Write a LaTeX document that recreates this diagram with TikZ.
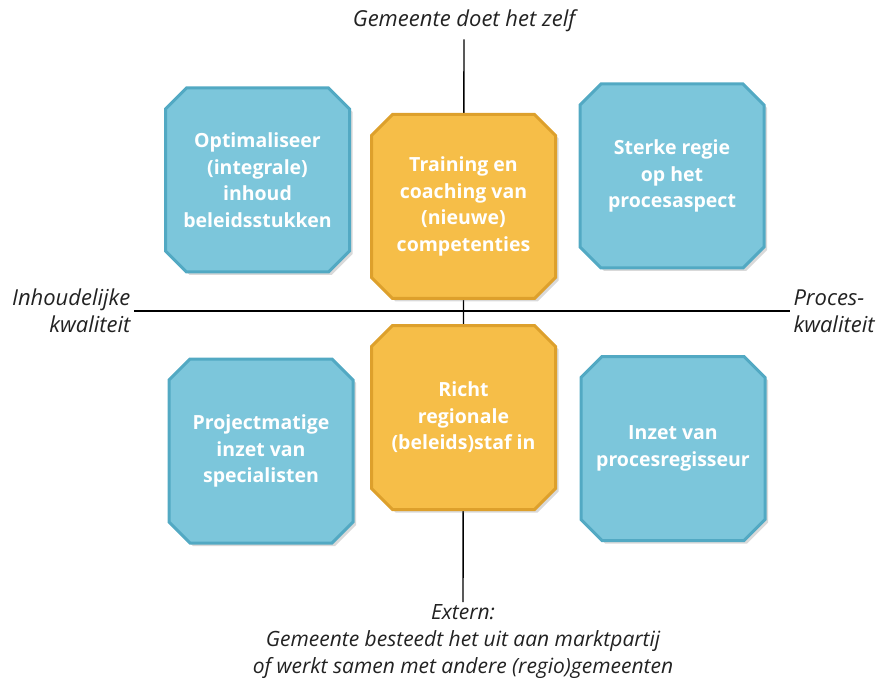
\documentclass[tikz,border=0pt]{standalone}
\usepackage{fontspec}
\setmainfont{Open Sans}
\usetikzlibrary{shapes.misc, shadows, positioning}

\definecolor{tileblue}{HTML}{7CC6DB}
\definecolor{tileblueedge}{HTML}{52A9C3}
\definecolor{tileorange}{HTML}{F6BE48}
\definecolor{tileorangeedge}{HTML}{DDA02C}
\definecolor{labelgray}{HTML}{222222}

\tikzset{
	tile/.style = {chamfered rectangle, chamfered rectangle xsep = 10.5pt, chamfered rectangle ysep = 10.5pt,
		minimum width = 184pt, minimum height = 184pt, inner sep = 0pt, line width = 3pt,
		text = white, align = center, font = \fontsize{19.5}{26.5}\selectfont\bfseries,
		drop shadow = {shadow xshift = 3pt, shadow yshift = -3pt, opacity = 0.3}},
	bluetile/.style = {tile, fill = tileblue, draw = tileblueedge},
	orangetile/.style = {tile, fill = tileorange, draw = tileorangeedge},
	axislabel/.style = {text = labelgray, font = \fontsize{22}{27}\selectfont\itshape}
}

\begin{document}
\begin{tikzpicture}[x = 1pt, y = -1pt]
	\useasboundingbox (0,0) rectangle (888,684);

	% labels at the ends of the axes
	\begin{scope}[axislabel]
		\node [inner sep = 7pt] (zelf) at (464,21) {Gemeente doet het zelf};
		\node [anchor = north, align = center, inner sep = 2pt, font = \fontsize{21}{27}\selectfont\itshape] (extern) at (463,602) {Extern:\\Gemeente besteedt het uit aan marktpartij\\of werkt samen met andere (regio)gemeenten};
		\node [anchor = east, align = right] (inhoud) at (134,311) {Inhoudelijke\\kwaliteit};
		\node [anchor = west, align = left] (proces) at (790,311) {Proces-\\kwaliteit};
	\end{scope}

	\begin{scope}[line width = 1.4pt]
		\draw (zelf.south) -- (extern.north);
		\draw (inhoud.east) -- (proces.west);
	\end{scope}

	% the six tiles
	\node [bluetile] (inhoudstukken) at (257.5,180) {Optimaliseer\\(integrale)\\inhoud\\beleidsstukken};
	\node [orangetile] (training) at (463.5,206.5) {Training en\\coaching van\\(nieuwe)\\competenties};
	\node [bluetile] (regie) at (672,176) {Sterke regie\\op het\\procesaspect};
	\node [bluetile] (specialisten) at (261,451) {Projectmatige\\inzet van\\specialisten};
	\node [orangetile] (staf) at (463.5,417.5) {Richt\\regionale\\(beleids)staf in};
	\node [bluetile] (regisseur) at (673,448.5) {Inzet van\\procesregisseur};
\end{tikzpicture}
\end{document}
